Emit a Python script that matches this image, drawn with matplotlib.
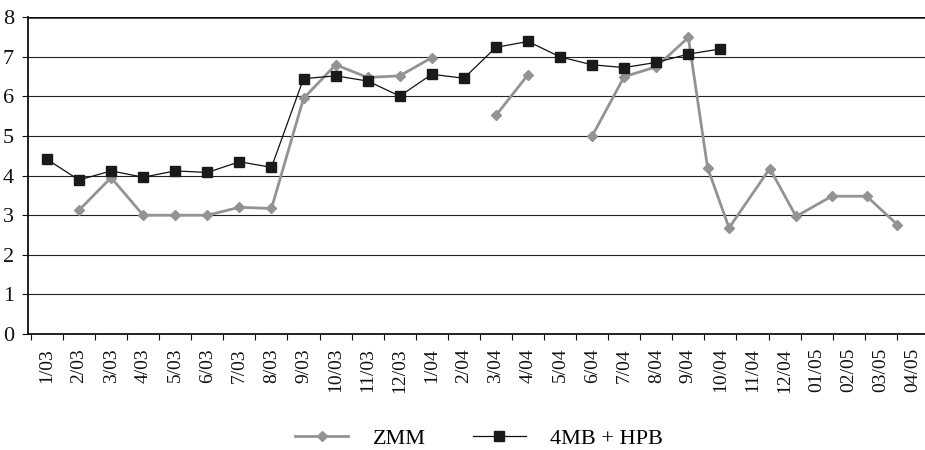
import numpy as np
import matplotlib
matplotlib.use("Agg")
import matplotlib.pyplot as plt

plt.rcParams['font.family'] = ['Liberation Serif', 'DejaVu Serif']

months = ['1/03', '2/03', '3/03', '4/03', '5/03', '6/03', '7/03', '8/03', '9/03',
          '10/03', '11/03', '12/03', '1/04', '2/04', '3/04', '4/04', '5/04', '6/04',
          '7/04', '8/04', '9/04', '10/04', '11/04', '12/04', '01/05', '02/05',
          '03/05', '04/05']

nan = np.nan
# ZMM: the last points sit a bit left of their categories in the original
zmm_x = [0, 1, 2, 3, 4, 5, 6, 7, 8, 9, 10, 11, 12, 13, 14, 15, 16, 17, 18, 19, 20,
         20.6, 21.27, 22.54, 23.36, 24.47, 25.56, 26.52]
zmm = [nan, 3.13, 3.95, 3.0, 3.0, 3.0, 3.2, 3.17, 5.95, 6.8, 6.48, 6.52, 6.98,
       nan, 5.52, 6.55, nan, 5.0, 6.5, 6.75, 7.49, 4.2, 2.68, 4.18, 2.97, 3.48,
       3.48, 2.76]

mb_hpb = [4.41, 3.89, 4.12, 3.96, 4.12, 4.08, 4.35, 4.21, 6.45, 6.52, 6.39, 6.01,
          6.56, 6.46, 7.24, 7.39, 7.0, 6.8, 6.73, 6.86, 7.07, 7.2]

fig = plt.figure(figsize=(9.25, 4.5), dpi=100)
ax = fig.add_axes([0.030, 0.2578, 0.970, 0.7038])

for y in range(1, 8):
    ax.axhline(y, color='#222222', lw=0.8, zorder=1)
ax.axhline(8, color='#111111', lw=1.8, zorder=1)

ax.plot(zmm_x, zmm, color='#939393', lw=2.0, marker='D', ms=5.5,
        mec='#939393', mfc='#939393', label='ZMM', zorder=3)
ax.plot(range(len(mb_hpb)), mb_hpb, color='#111111', lw=0.9, marker='s', ms=6.5,
        mfc='#1a1a1a', mec='#1a1a1a', label='4MB + HPB', zorder=4)

ax.set_xlim(-0.6, 27.38)
ax.set_ylim(0, 8)
ax.set_yticks(range(9))
ax.tick_params(axis='y', labelsize=16, length=4, width=0.8, pad=6, colors='#111111')
ax.set_xticks(range(len(months)))
ax.set_xticklabels(months, rotation=90, fontsize=14)
ax.tick_params(axis='x', which='major', length=0, pad=10, colors='#111111')
ax.set_xticks(np.arange(-0.5, 27, 1), minor=True)
ax.tick_params(axis='x', which='minor', length=4, width=0.8, color='#111111')

for s in ['top', 'right']:
    ax.spines[s].set_visible(False)
ax.spines['left'].set_linewidth(1.3)
ax.spines['bottom'].set_linewidth(1.3)
ax.spines['left'].set_color('#111111')
ax.spines['bottom'].set_color('#111111')

fig.legend(loc='center', bbox_to_anchor=(0.518, 0.025), ncol=2, frameon=False,
           fontsize=16, handlelength=2.4, handletextpad=1.1, columnspacing=2.1)

fig.savefig('out.png', dpi=100)
